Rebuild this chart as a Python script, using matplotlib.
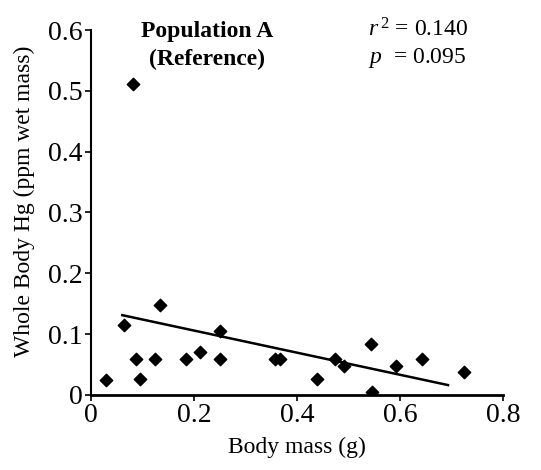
import numpy as np
import matplotlib.pyplot as plt

plt.rcParams['font.family'] = ['Liberation Serif', 'DejaVu Serif']
plt.rcParams['mathtext.fontset'] = 'custom'
plt.rcParams['mathtext.rm'] = 'Liberation Serif'
plt.rcParams['mathtext.it'] = 'Liberation Serif:italic'

mass = [0.029, 0.065, 0.081, 0.087, 0.095, 0.124, 0.134, 0.185, 0.212, 0.251,
        0.251, 0.357, 0.367, 0.439, 0.474, 0.491, 0.543, 0.546, 0.593, 0.643, 0.725]
hg = [0.025, 0.115, 0.511, 0.059, 0.026, 0.059, 0.148, 0.059, 0.071, 0.105,
      0.059, 0.059, 0.059, 0.026, 0.059, 0.048, 0.084, 0.005, 0.048, 0.059, 0.037]

trend_x = [0.061, 0.693]
trend_y = [0.131, 0.016]

xticks = [0, 0.2, 0.4, 0.6, 0.8]
yticks = [0, 0.1, 0.2, 0.3, 0.4, 0.5, 0.6]

fig = plt.figure(figsize=(5.41, 4.70), dpi=100)
ax = fig.add_axes([0.168, 0.160, 0.762, 0.776])

ax.plot(trend_x, trend_y, 'k-', lw=1.8)
ax.scatter(mass, hg, marker='D', s=40, c='k', zorder=3)

ax.set_xlim(0, 0.8)
ax.set_ylim(0, 0.6)
ax.set_xticks(xticks)
ax.set_xticklabels(['0', '0.2', '0.4', '0.6', '0.8'])
ax.set_yticks(yticks)
ax.set_yticklabels(['0', '0.1', '0.2', '0.3', '0.4', '0.5', '0.6'])
ax.tick_params(labelsize=20, direction='out', length=4, width=1.2, pad=2)
for s in ['top', 'right']:
    ax.spines[s].set_visible(False)
ax.spines['left'].set_linewidth(1.5)
ax.spines['bottom'].set_linewidth(2)

ax.set_xlabel('Body mass (g)', fontsize=17, labelpad=6)
ax.set_ylabel('Whole Body Hg (ppm wet mass)', fontsize=17)
ax.yaxis.set_label_coords(-0.135, 0.53)

ax.text(0.226, 0.589, 'Population A', fontsize=17, fontweight='bold',
        ha='center', va='baseline')
ax.text(0.226, 0.543, '(Reference)', fontsize=17, fontweight='bold',
        ha='center', va='baseline')
ax.text(0.537, 0.589, '$r^{\\,2}$ = 0.140', fontsize=17, ha='left', va='baseline')
ax.text(0.537, 0.546, '$p$  = 0.095', fontsize=17, ha='left', va='baseline')

fig.savefig('out.png', dpi=100)
